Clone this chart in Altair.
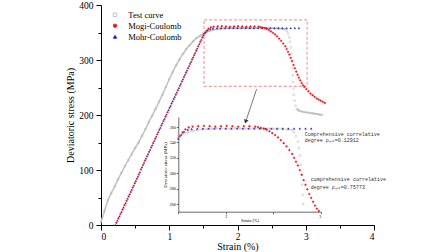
import altair as alt
import pandas as pd

# ---------------- data ----------------
series_names = ["Test curve", "Mogi-Coulomb", "Mohr-Coulomb"]
series_fill = ["transparent", "#e8141c", "#1c22b0"]
series_stroke = ["#b2b2b2", "#e8141c", "#1c22b0"]
series_shape = ["square", "circle", "triangle-up"]

test_strain = [0.00, 0.05, 0.10, 0.15, 0.20, 0.25, 0.30, 0.35, 0.40, 0.45,
               0.50, 0.55, 0.60, 0.65, 0.70, 0.75, 0.80, 0.85, 0.90, 0.95,
               1.00, 1.05, 1.10, 1.15, 1.20, 1.25, 1.30, 1.35, 1.40, 1.45,
               1.50, 1.55, 1.60, 1.65, 1.70, 1.75, 1.80, 1.85, 1.90, 1.95,
               2.00, 2.05, 2.10, 2.15, 2.20, 2.25, 2.30, 2.35, 2.40, 2.45,
               2.50, 2.55, 2.60, 2.65, 2.70, 2.72, 2.74, 2.76, 2.77, 2.78,
               2.79, 2.80, 2.805, 2.81, 2.815, 2.82, 2.825, 2.835, 2.85, 2.87,
               2.90, 2.95, 3.00, 3.05, 3.10, 3.15, 3.20, 3.24]
test_stress = [5, 25, 45, 58, 70, 83, 95, 107, 118, 129,
               140, 150, 162, 174, 187, 199, 211, 224, 237, 251,
               265, 278, 290, 301, 311, 320, 327, 334, 340, 344,
               348, 351, 353, 355, 356, 357, 357.5, 358, 358, 358.5,
               358, 358, 358.5, 358, 358, 358, 358.5, 358, 358, 358,
               358, 357.5, 357.5, 357, 356, 353, 348, 341, 333, 323,
               311, 298, 285, 272, 260, 248, 237, 226, 217, 211,
               208, 206, 205, 204, 203, 202, 201, 200]

mohr_strain = [0.21, 0.24, 0.27, 0.30, 0.33, 0.36, 0.39, 0.42, 0.45, 0.48,
               0.51, 0.54, 0.57, 0.60, 0.63, 0.66, 0.69, 0.72, 0.75, 0.78,
               0.81, 0.84, 0.87, 0.90, 0.93, 0.96, 0.99, 1.02, 1.05, 1.08,
               1.11, 1.14, 1.17, 1.20, 1.23, 1.26, 1.29, 1.32, 1.35, 1.38,
               1.41, 1.44, 1.47, 1.50, 1.53, 1.56, 1.60, 1.64,
               1.70, 1.76, 1.82, 1.88, 1.94, 2.00, 2.06, 2.12, 2.18, 2.24,
               2.30, 2.36, 2.42, 2.48, 2.54, 2.60, 2.66, 2.72, 2.78, 2.84, 2.90]
mohr_stress = [0, 8, 16, 24, 32, 40, 48, 56, 64, 72,
               80, 88, 96, 105, 113, 121, 129, 137, 145, 153,
               161, 169, 177, 185, 193, 201, 209, 217, 225, 233,
               241, 249, 257, 265, 273, 281, 289, 297, 305, 313,
               321, 329, 337, 345, 350, 354, 356.5, 357.5,
               358, 358, 358, 358, 358, 358, 358, 358, 358, 358,
               358, 358, 358, 358, 358, 358, 358, 358, 358, 358, 358]

mogi_strain = [0.225, 0.255, 0.285, 0.315, 0.345, 0.375, 0.405, 0.435, 0.465, 0.495,
               0.525, 0.555, 0.585, 0.615, 0.645, 0.675, 0.705, 0.735, 0.765, 0.795,
               0.825, 0.855, 0.885, 0.915, 0.945, 0.975, 1.005, 1.035, 1.065, 1.095,
               1.125, 1.155, 1.185, 1.215, 1.245, 1.275, 1.305, 1.335, 1.365, 1.395,
               1.425, 1.455, 1.485, 1.515, 1.545, 1.575, 1.61, 1.65,
               1.71, 1.77, 1.83, 1.89, 1.95, 2.01, 2.07, 2.13, 2.19, 2.25, 2.31,
               2.34, 2.37, 2.40, 2.43, 2.46, 2.49, 2.52, 2.55, 2.58, 2.61,
               2.64, 2.67, 2.70, 2.72, 2.74, 2.76, 2.78, 2.80, 2.82, 2.84,
               2.86, 2.88, 2.90, 2.92, 2.94, 2.96, 2.98, 3.01, 3.04, 3.07,
               3.10, 3.13, 3.16, 3.19, 3.22, 3.25, 3.28]
mogi_stress = [4, 12, 20, 28, 36, 44, 52, 60, 68, 76,
               84, 92, 101, 109, 117, 125, 133, 141, 149, 157,
               165, 173, 181, 189, 197, 205, 213, 221, 229, 237,
               245, 253, 261, 269, 277, 285, 293, 301, 309, 317,
               325, 333, 341, 348, 353, 357, 359.5, 360.5,
               361, 361.5, 361, 360.5, 361, 361.5, 361, 360.5, 361, 361, 360.5,
               360, 359, 358, 356.5, 354.5, 352, 349.5, 346.5, 343, 339,
               335, 330, 325, 320, 315, 310, 304, 298, 291, 285,
               279, 273, 268, 263, 258, 254, 251, 247, 243, 239,
               236, 233, 230, 228, 226, 224, 222]

# zoom window (red dashed box) and arrow, in main-axis data units
box_strain = [1.51, 3.02]
box_stress = [252, 373]
arrow_strain = [2.28, 2.12]
arrow_stress = [247, 188]

# inset axis domains
inset_strain_domain = [1.5, 3.0]
inset_stress_domain = [250, 373]

# annotations (main-axis data units)
note_text = ["Comprehensive correlative", "degree ρₘₒ=0.12912",
             "comprehensive correlative", "degree ρₘₒ=0.75773"]
note_strain = [2.987, 2.987, 3.075, 3.075]
note_stress = [165.5, 154.5, 83, 69.6]

# ---------------- build tables ----------------
rows = []
for name, xs, ys in [(series_names[0], test_strain, test_stress),
                     (series_names[2], mohr_strain, mohr_stress),
                     (series_names[1], mogi_strain, mogi_stress)]:
    for a, b in zip(xs, ys):
        rows.append({"series": name, "strain": a, "stress": b})
df = pd.DataFrame(rows)

box_df = pd.DataFrame({"x1": [box_strain[0]], "x2": [box_strain[1]],
                       "y1": [box_stress[0]], "y2": [box_stress[1]]})
arrow_df = pd.DataFrame({"strain": arrow_strain, "stress": arrow_stress, "o": [0, 1]})
head_df = arrow_df.iloc[[1]]
note_df = pd.DataFrame({"t": note_text, "strain": note_strain, "stress": note_stress})

FONT = "Liberation Serif"

main_xs = alt.Scale(domain=[0, 4], nice=False, zero=False)
main_ys = alt.Scale(domain=[0, 400], nice=False, zero=False)
main_xa = alt.Axis(
    title="Strain (%)", values=[0, 0.5, 1, 1.5, 2, 2.5, 3, 3.5, 4],
    labelExpr="datum.value % 1 === 0 ? '' + datum.value : ''",
    tickSize={"condition": {"test": "datum.value % 1 === 0", "value": 5}, "value": 3},
    labelFontSize=9.5, titleFontSize=10, labelPadding=1, titlePadding=1,
    labelFont=FONT, titleFont=FONT, titleFontWeight="normal", grid=False,
    domainColor="black", tickColor="black", labelColor="black", titleColor="black",
)
main_ya = alt.Axis(
    title="Deviatoric stress (MPa)", values=list(range(0, 401, 50)),
    labelExpr="datum.value % 100 === 0 ? '' + datum.value : ''",
    tickSize={"condition": {"test": "datum.value % 100 === 0", "value": 5}, "value": 3},
    labelFontSize=9.5, titleFontSize=10, labelPadding=3, titlePadding=3,
    labelFont=FONT, titleFont=FONT, titleFontWeight="normal", grid=False,
    domainColor="black", tickColor="black", labelColor="black", titleColor="black",
)

legend = alt.Legend(title=None, orient="none", legendX=9.8, legendY=5.5, padding=0,
                    labelFont=FONT, labelFontSize=8.5, labelColor="black",
                    symbolSize=12, symbolStrokeWidth=0.8, labelOffset=9,
                    rowPadding=2)

fill_enc = alt.Fill("series:N", scale=alt.Scale(domain=series_names, range=series_fill), legend=legend)
stroke_enc = alt.Stroke("series:N", scale=alt.Scale(domain=series_names, range=series_stroke), legend=legend)
shape_enc = alt.Shape("series:N", scale=alt.Scale(domain=series_names, range=series_shape), legend=legend)

base = alt.Chart(df)

seg_expr = "datum.strain < 2.71 ? 'a' : (datum.strain > 2.86 ? 'c' : 'b')"

gray_line = base.transform_filter(alt.datum.series == "Test curve").transform_calculate(
    seg=seg_expr).transform_filter("datum.seg != 'b'").mark_line(
    color="#c4c4c4", strokeWidth=1.6).encode(
    x=alt.X("strain:Q", scale=main_xs, axis=main_xa),
    y=alt.Y("stress:Q", scale=main_ys, axis=main_ya),
    detail="seg:N", order="strain:Q")

points = base.mark_point(size=3, strokeWidth=0.4, opacity=1).encode(
    x=alt.X("strain:Q", scale=main_xs, axis=main_xa),
    y=alt.Y("stress:Q", scale=main_ys, axis=main_ya),
    fill=fill_enc, stroke=stroke_enc, shape=shape_enc)

box = alt.Chart(box_df).mark_rect(fillOpacity=0, stroke="#f2a0a0", strokeWidth=1.2,
                                  strokeDash=[3, 2]).encode(
    x=alt.X("x1:Q", scale=main_xs, axis=main_xa), x2="x2:Q",
    y=alt.Y("y1:Q", scale=main_ys, axis=main_ya), y2="y2:Q")

arrow = alt.Chart(arrow_df).mark_line(color="#555555", strokeWidth=0.8).encode(
    x=alt.X("strain:Q", scale=main_xs, axis=main_xa),
    y=alt.Y("stress:Q", scale=main_ys, axis=main_ya), order="o:Q")

head = alt.Chart(head_df).mark_point(shape="triangle-up", filled=True, size=22,
                                     angle=198, color="#333333", opacity=1).encode(
    x=alt.X("strain:Q", scale=main_xs, axis=main_xa),
    y=alt.Y("stress:Q", scale=main_ys, axis=main_ya))

notes = alt.Chart(note_df).mark_text(align="left", baseline="middle",
                                     font="Liberation Mono", fontSize=5,
                                     color="#333333").encode(
    x=alt.X("strain:Q", scale=main_xs, axis=main_xa),
    y=alt.Y("stress:Q", scale=main_ys, axis=main_ya), text="t:N")

main = alt.layer(gray_line, box, arrow, head, points, notes)

# ---------------- inset ----------------
in_xs = alt.Scale(domain=inset_strain_domain, range=[77.3, 219.7], nice=False, zero=False)
in_ys = alt.Scale(domain=inset_stress_domain, range=[206.7, 112], nice=False, zero=False)
in_xa = alt.Axis(
    title="Strain (%)", orient="bottom", offset=-13.3, values=[1.5, 2, 2.5, 3],
    labelExpr="datum.value % 1 === 0 ? '' + datum.value : ''",
    tickSize=2, labelFontSize=4, titleFontSize=4.3, labelPadding=0.5, titlePadding=0.5,
    labelFont=FONT, titleFont=FONT, titleFontWeight="normal", grid=False,
    domainColor="#444444", tickColor="#444444", labelColor="black", titleColor="black",
    domainWidth=0.8, tickWidth=0.8)
in_ya = alt.Axis(
    title="Deviatoric stress (MPa)", orient="left", offset=-77.3,
    values=[260, 280, 300, 320, 340, 360],
    tickSize=2, labelFontSize=4, titleFontSize=4.8, labelPadding=1, titlePadding=1.5,
    labelFont=FONT, titleFont=FONT, titleFontWeight="normal", grid=False,
    domainColor="#444444", tickColor="#444444", labelColor="black", titleColor="black",
    domainWidth=0.8, tickWidth=0.8)

in_filter = "datum.strain >= 1.5 && datum.strain <= 3.0 && datum.stress >= 250 && datum.stress <= 373"

in_line = base.transform_filter(alt.datum.series == "Test curve").transform_filter(
    in_filter).transform_calculate(seg=seg_expr).transform_filter(
    "datum.seg != 'b'").mark_line(color="#d2d2d2", strokeWidth=0.8).encode(
    x=alt.X("strain:Q", scale=in_xs, axis=in_xa),
    y=alt.Y("stress:Q", scale=in_ys, axis=in_ya),
    detail="seg:N", order="strain:Q")

in_points = base.transform_filter(in_filter).mark_point(
    size=3, strokeWidth=0.4, opacity=1).encode(
    x=alt.X("strain:Q", scale=in_xs, axis=in_xa),
    y=alt.Y("stress:Q", scale=in_ys, axis=in_ya),
    fill=alt.Fill("series:N", scale=alt.Scale(domain=series_names, range=series_fill), legend=None),
    stroke=alt.Stroke("series:N", scale=alt.Scale(domain=series_names, range=series_stroke), legend=None),
    shape=alt.Shape("series:N", scale=alt.Scale(domain=series_names, range=series_shape), legend=None))

inset = alt.layer(in_line, in_points)

chart = alt.layer(main, inset).resolve_scale(
    x="independent", y="independent"
).properties(
    width=273, height=220,
    autosize=alt.AutoSizeParams(type="none"),
    padding={"left": 101, "top": 5, "right": 74, "bottom": 27},
    background="white",
).configure_view(stroke=None)

chart.save("out.html", embed_options={"renderer": "svg", "actions": False})
